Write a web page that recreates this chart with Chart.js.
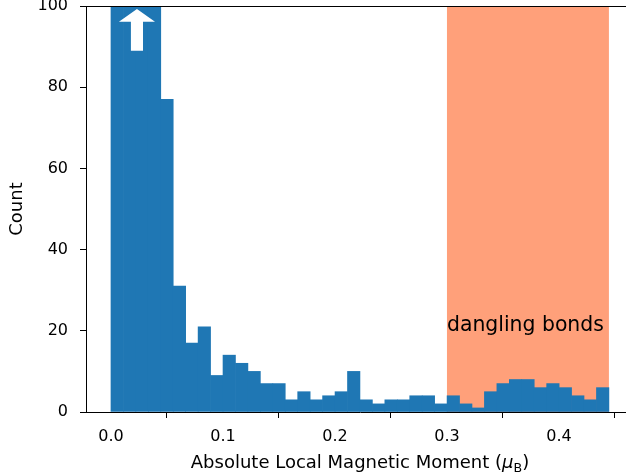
<!DOCTYPE html>
<html>
<head>
<meta charset="utf-8">
<script src="https://cdn.jsdelivr.net/npm/chart.js@4"></script>
<style>
  html, body { margin: 0; padding: 0; background: #fff; overflow: hidden; }
  #wrap { width: 640px; height: 475px; }
</style>
</head>
<body>
<div id="wrap"><canvas id="moment-histogram-chart" width="640" height="475"></canvas></div>
<script>
// histogram of |local moment|, 40 equal bins from 0 to ~0.4446
const binWidth = 0.011115;
// first four bins run off the top of the plot (marked by the arrow)
const counts = [
    250, 200, 150, 110, 77, 31, 17, 21, 9, 14,
    12, 10, 7, 7, 3, 5, 3, 4, 5, 10,
    3, 2, 3, 3, 4, 4, 2, 4, 2, 1,
    5, 7, 8, 8, 6, 7, 6, 4, 3, 6,
];
const binCenters = counts.map((c, i) => (i + 0.5) * binWidth);

const xTicks = [0.0, 0.1, 0.2, 0.3, 0.4];
const yTicks = [0, 20, 40, 60, 80, 100];

const danglingRange = [0.3, 0.4446];
const danglingLabel = "dangling bonds";
const danglingLabelAt = [0.3, 20];

// off-scale marker, data units
const arrowX = 0.0232;
const arrowTail = 88.96;
const arrowHeadBase = 96.1;
const arrowTip = 99.26;
const arrowHeadHalf = 0.0161;
const arrowShaftHalf = 0.0054;

Chart.defaults.font.family = "'DejaVu Sans', sans-serif";
Chart.defaults.color = "#000";

const histogramContext = document.getElementById("moment-histogram-chart");

const extrasPlugin = {
    id: "extras",
    beforeDatasetsDraw(chart) {
        const { ctx, chartArea, scales } = chart;
        const left = scales.x.getPixelForValue(danglingRange[0]);
        const right = scales.x.getPixelForValue(danglingRange[1]);
        ctx.save();
        ctx.fillStyle = "#ffa07a";
        ctx.fillRect(left, chartArea.top, right - left, chartArea.bottom - chartArea.top);
        ctx.restore();
    },
    afterDatasetsDraw(chart) {
        const { ctx, scales } = chart;
        const x = scales.x;
        const y = scales.y;

        ctx.save();
        ctx.fillStyle = "#fff";
        ctx.beginPath();
        ctx.moveTo(x.getPixelForValue(arrowX - arrowShaftHalf), y.getPixelForValue(arrowTail));
        ctx.lineTo(x.getPixelForValue(arrowX - arrowShaftHalf), y.getPixelForValue(arrowHeadBase));
        ctx.lineTo(x.getPixelForValue(arrowX - arrowHeadHalf), y.getPixelForValue(arrowHeadBase));
        ctx.lineTo(x.getPixelForValue(arrowX), y.getPixelForValue(arrowTip));
        ctx.lineTo(x.getPixelForValue(arrowX + arrowHeadHalf), y.getPixelForValue(arrowHeadBase));
        ctx.lineTo(x.getPixelForValue(arrowX + arrowShaftHalf), y.getPixelForValue(arrowHeadBase));
        ctx.lineTo(x.getPixelForValue(arrowX + arrowShaftHalf), y.getPixelForValue(arrowTail));
        ctx.closePath();
        ctx.fill();

        ctx.fillStyle = "#000";
        ctx.font = "20.4px 'DejaVu Sans'";
        ctx.textAlign = "left";
        ctx.textBaseline = "alphabetic";
        ctx.fillText(
            danglingLabel,
            x.getPixelForValue(danglingLabelAt[0]),
            y.getPixelForValue(danglingLabelAt[1])
        );
        ctx.restore();
    },
    afterDraw(chart) {
        const { ctx, chartArea } = chart;
        ctx.save();
        // top spine
        ctx.strokeStyle = "#000";
        ctx.lineWidth = 1;
        ctx.beginPath();
        ctx.moveTo(chartArea.left, chartArea.top + 0.5);
        ctx.lineTo(chartArea.right, chartArea.top + 0.5);
        ctx.stroke();

        // x title with mathtext-like mu_B
        const parts = [
            { text: "Absolute Local Magnetic Moment (", font: "18px 'DejaVu Sans'", dy: 0 },
            { text: "\u03bc", font: "italic 18px 'DejaVu Sans'", dy: 0 },
            { text: "B", font: "12.6px 'DejaVu Sans'", dy: 3.5 },
            { text: ")", font: "18px 'DejaVu Sans'", dy: 0 },
        ];
        let total = 0;
        parts.forEach((p) => {
            ctx.font = p.font;
            p.w = ctx.measureText(p.text).width;
            total += p.w;
        });
        let cx = (chartArea.left + chartArea.right) / 2 - total / 2;
        const baseline = 468;
        ctx.fillStyle = "#000";
        ctx.textAlign = "left";
        ctx.textBaseline = "alphabetic";
        parts.forEach((p) => {
            ctx.font = p.font;
            ctx.fillText(p.text, cx, baseline + p.dy);
            cx += p.w;
        });
        ctx.restore();
    },
};

const histogramData = {
    datasets: [
        {
            label: "Count",
            data: binCenters.map((v, i) => ({ x: v, y: counts[i] })),
            backgroundColor: "#1f77b4",
            borderWidth: 0,
            barPercentage: 1.0,
            categoryPercentage: 1.0,
            grouped: false,
        },
    ],
};

const histogramConfig = {
    type: "bar",
    data: histogramData,
    options: {
        responsive: false,
        animation: false,
        events: [],
        layout: { padding: { left: 0, top: 6, right: 6, bottom: 0 } },
        plugins: {
            legend: { display: false },
            tooltip: { enabled: false },
        },
        scales: {
            x: {
                type: "linear",
                min: -0.0223,
                max: 0.467,
                z: 1,
                offset: false,
                border: { display: true, color: "#000", width: 1 },
                grid: { drawOnChartArea: false, drawTicks: true, tickLength: 6, color: "#000" },
                ticks: {
                    font: { size: 16 },
                    padding: 9,
                    maxRotation: 0,
                    callback: (v) => Number(v).toFixed(1),
                },
                afterBuildTicks: (scale) => {
                    scale.ticks = xTicks.map((v) => ({ value: v }));
                },
                afterFit: (scale) => {
                    scale.height = 63;
                    scale.paddingLeft = 0;
                    scale.paddingRight = 0;
                },
            },
            y: {
                min: 0,
                max: 100,
                z: 1,
                border: { display: true, color: "#000", width: 1 },
                grid: { drawOnChartArea: false, drawTicks: true, tickLength: 6, color: "#000" },
                ticks: {
                    font: { size: 16 },
                    padding: 12,
                },
                title: {
                    display: true,
                    text: "Count",
                    font: { size: 18 },
                    padding: { top: 7, bottom: 0 },
                },
                afterBuildTicks: (scale) => {
                    scale.ticks = yTicks.map((v) => ({ value: v }));
                },
                afterFit: (scale) => {
                    scale.width = 86;
                    scale.paddingTop = 0;
                    scale.paddingBottom = 0;
                },
            },
        },
    },
    plugins: [extrasPlugin],
};

const histogramChart = new Chart(histogramContext, histogramConfig);
</script>
</body>
</html>
